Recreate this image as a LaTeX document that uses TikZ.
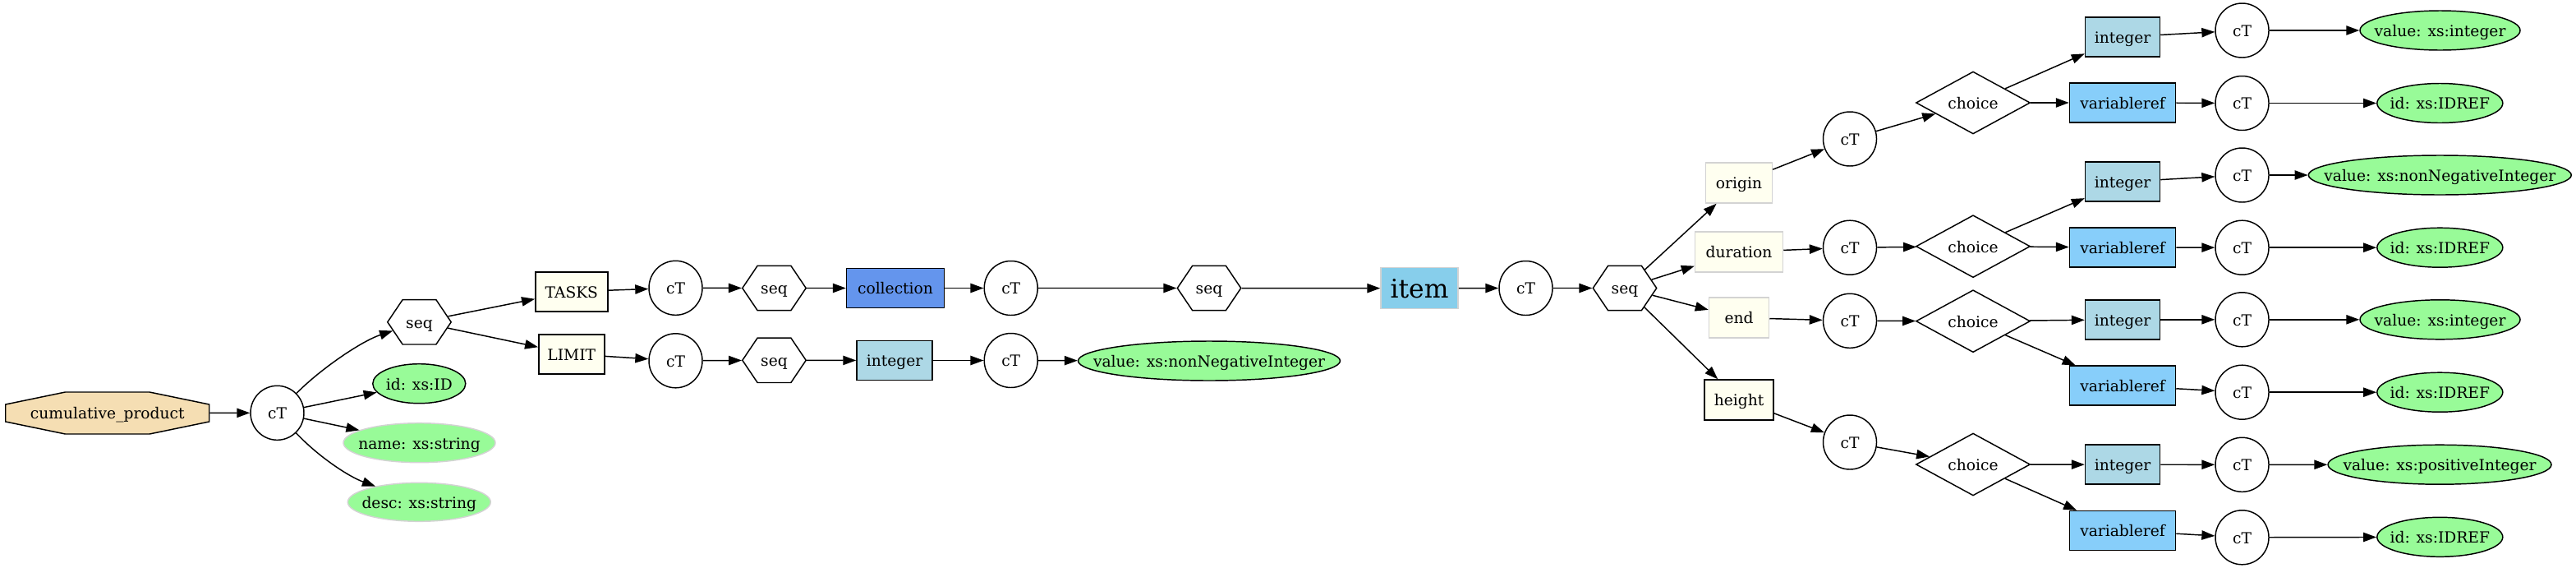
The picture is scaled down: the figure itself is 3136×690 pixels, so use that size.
\documentclass[tikz,border=0pt]{standalone}
\usepackage{fontspec}
\setmainfont{DejaVu Serif}
\usetikzlibrary{shapes.geometric,shapes.symbols,arrows.meta,calc}
\definecolor{wheatc}{HTML}{F5DEB3}
\definecolor{ivoryc}{HTML}{FFFFF0}
\definecolor{palegreenc}{HTML}{98FB98}
\definecolor{lgrayc}{HTML}{D3D3D3}
\definecolor{cornflowerc}{HTML}{6495ED}
\definecolor{lbluec}{HTML}{ADD8E6}
\definecolor{lskyc}{HTML}{87CEFA}
\definecolor{skyc}{HTML}{87CEEB}
\newcommand{\zb}[1]{\makebox[0pt]{#1}}
\begin{document}
\begin{tikzpicture}[x=0.75pt,y=-0.75pt,
  every node/.style={font=\fontsize{14pt}{16pt}\selectfont, inner sep=0pt, text height=11pt, text depth=0pt, line width=1.1pt},
  wh/.style 2 args={minimum width=#1*0.75pt, minimum height=#2*0.75pt},
  ctn/.style={ellipse, draw, wh={65}{66}},
  seqn/.style={signal, signal to=west and east, signal pointer angle=112, draw, wh={77.4}{54.4}},
  chn/.style={diamond, draw, wh={139}{66}},
  boxn/.style={rectangle, draw},
  elemn/.style={boxn, fill=ivoryc},
  attrn/.style={ellipse, draw, fill=palegreenc},
  soft/.style={draw=lgrayc},
  intn/.style={boxn, fill=lbluec, wh={91}{48}},
  vrn/.style={boxn, fill=lskyc, wh={129}{48}},
  arr/.style={-{Triangle[length=12pt,width=8.5pt]}, line width=1.1pt},
]
\useasboundingbox (0,0) rectangle (3136,690);

% root octagon
\coordinate (cpc) at (130.75,502.5);
\draw[line width=1.1pt, fill=wheatc] ($(cpc)+(-124,-10.5)$) -- ($(cpc)+(-51.3,-25.5)$) -- ($(cpc)+(51.3,-25.5)$) -- ($(cpc)+(124,-10.5)$) -- ($(cpc)+(124,10.5)$) -- ($(cpc)+(51.3,25.5)$) -- ($(cpc)+(-51.3,25.5)$) -- ($(cpc)+(-124,10.5)$) -- cycle;
\node[wh={248}{51}] (cp) at (cpc) {cumulative\_product};

% left part
\node[ctn] (ct1) at (337.5,502.3) {cT};
\node[seqn] (seq1) at (510.5,391.8) {seq};
\node[attrn, wh={113}{48}] (aid) at (510.3,466.7) {\zb{id: xs:ID}};
\node[attrn, soft, wh={185}{48}] (aname) at (510.5,538.7) {\zb{name: xs:string}};
\node[attrn, soft, wh={174}{47}] (adesc) at (510.3,610.8) {\zb{desc: xs:string}};
\node[elemn, wh={88}{48}] (tasks) at (695.8,354.8) {TASKS};
\node[elemn, wh={80}{48}] (limit) at (695.8,430.8) {LIMIT};

% TASKS row
\node[ctn] (ctT) at (822.5,350.3) {cT};
\node[seqn] (seqT) at (942.5,350.5) {seq};
\node[boxn, fill=cornflowerc, wh={119}{48}] (coll) at (1090,350.5) {collection};
\node[ctn] (ctC) at (1230.7,350.5) {cT};
\node[seqn] (seqC) at (1472,350.5) {seq};
\node[boxn, fill=skyc, soft, wh={94}{50}, font=\fontsize{23.5pt}{26pt}\selectfont, text height=18pt] (item) at (1728,350.7) {item};
\node[ctn] (ctI) at (1857.5,350.5) {cT};
\node[seqn] (seqI) at (1978,350.5) {seq};

% LIMIT row
\node[ctn] (ctL) at (822.5,438.8) {cT};
\node[seqn] (seqL) at (942.5,438.3) {seq};
\node[intn, wh={92}{48}] (intL) at (1089,438.5) {integer};
\node[ctn] (ctIL) at (1230.7,438.5) {cT};
\node[attrn, wh={319}{48}] (valL) at (1472,439) {\zb{value: xs:nonNegativeInteger}};

% item children
\node[elemn, soft, wh={81}{49}] (orig) at (2117,222.5) {origin};
\node[elemn, soft, wh={107}{49}] (dur) at (2117,306.5) {duration};
\node[elemn, soft, wh={73}{49}] (endn) at (2117,386.5) {end};
\node[elemn, wh={84}{49}] (hgt) at (2117,486.5) {height};

\node[ctn] (cto) at (2252,169) {cT};
\node[ctn] (ctd) at (2252,301.2) {cT};
\node[ctn] (cte) at (2252,390.3) {cT};
\node[ctn] (cth) at (2252,538) {cT};

\node[chn] (cho) at (2402,125) {choice};
\node[chn] (chd) at (2402,299.7) {choice};
\node[chn] (che) at (2402,390.7) {choice};
\node[chn] (chh) at (2402,565) {choice};

\node[intn] (into) at (2584,45) {integer};
\node[vrn] (vro) at (2584,125) {variableref};
\node[intn] (intd) at (2584,221.2) {integer};
\node[vrn] (vrd) at (2584,301) {variableref};
\node[intn] (inte) at (2584,388.8) {integer};
\node[vrn] (vre) at (2584,469.2) {variableref};
\node[intn] (inth) at (2584,565.2) {integer};
\node[vrn] (vrh) at (2584,645.5) {variableref};

\node[ctn] (ctoi) at (2729.5,37) {cT};
\node[ctn] (ctov) at (2729.5,125.5) {cT};
\node[ctn] (ctdi) at (2729.5,213) {cT};
\node[ctn] (ctdv) at (2729.5,301.2) {cT};
\node[ctn] (ctei) at (2729.5,388.8) {cT};
\node[ctn] (ctev) at (2729.5,477.2) {cT};
\node[ctn] (cthi) at (2729.5,565.3) {cT};
\node[ctn] (cthv) at (2729.5,653.8) {cT};

\node[attrn, wh={195}{48}] (valo) at (2970.5,37) {\zb{value: xs:integer}};
\node[attrn, wh={153}{48}] (ido) at (2970.3,125.5) {\zb{id: xs:IDREF}};
\node[attrn, wh={320}{48}] (vald) at (2970.3,213) {\zb{value: xs:nonNegativeInteger}};
\node[attrn, wh={153}{48}] (idd) at (2970.3,301.2) {\zb{id: xs:IDREF}};
\node[attrn, wh={195}{48}] (vale) at (2970.5,388.8) {\zb{value: xs:integer}};
\node[attrn, wh={153}{48}] (ide) at (2970.3,477.2) {\zb{id: xs:IDREF}};
\node[attrn, wh={272}{48}] (valh) at (2970,565.2) {\zb{value: xs:positiveInteger}};
\node[attrn, wh={153}{48}] (idh) at (2970.3,653.3) {\zb{id: xs:IDREF}};

% edges
\draw[arr] (cp) -- (ct1);
\draw[arr] (ct1) .. controls (390,449) and (440,415) .. (seq1);
\draw[arr] (ct1) -- (aid);
\draw[arr] (ct1) -- (aname);
\draw[arr] (ct1) .. controls (388,556) and (425,580) .. (adesc);
\draw[arr] (seq1) -- (tasks);
\draw[arr] (seq1) -- (limit);

\draw[arr] (tasks) -- (ctT);
\draw[arr] (ctT) -- (seqT);
\draw[arr] (seqT) -- (coll);
\draw[arr] (coll) -- (ctC);
\draw[arr] (ctC) -- (seqC);
\draw[arr] (seqC) -- (item);
\draw[arr] (item) -- (ctI);
\draw[arr] (ctI) -- (seqI);

\draw[arr] (limit) -- (ctL);
\draw[arr] (ctL) -- (seqL);
\draw[arr] (seqL) -- (intL);
\draw[arr] (intL) -- (ctIL);
\draw[arr] (ctIL) -- (valL);

\draw[arr] (seqI) -- (orig);
\draw[arr] (seqI) -- (dur);
\draw[arr] (seqI) -- (endn);
\draw[arr] (seqI) -- (hgt);

\draw[arr] (orig) -- (cto);
\draw[arr] (dur) -- (ctd);
\draw[arr] (endn) -- (cte);
\draw[arr] (hgt) -- (cth);

\draw[arr] (cto) -- (cho);
\draw[arr] (ctd) -- (chd);
\draw[arr] (cte) -- (che);
\draw[arr] (cth) -- (chh);

\draw[arr] (cho) -- (into);
\draw[arr] (cho) -- (vro);
\draw[arr] (chd) -- (intd);
\draw[arr] (chd) -- (vrd);
\draw[arr] (che) -- (inte);
\draw[arr] (che) -- (vre);
\draw[arr] (chh) -- (inth);
\draw[arr] (chh) -- (vrh);

\draw[arr] (into) -- (ctoi);
\draw[arr] (vro) -- (ctov);
\draw[arr] (intd) -- (ctdi);
\draw[arr] (vrd) -- (ctdv);
\draw[arr] (inte) -- (ctei);
\draw[arr] (vre) -- (ctev);
\draw[arr] (inth) -- (cthi);
\draw[arr] (vrh) -- (cthv);

\draw[arr] (ctoi) -- (valo);
\draw[arr] (ctov) -- (ido);
\draw[arr] (ctdi) -- (vald);
\draw[arr] (ctdv) -- (idd);
\draw[arr] (ctei) -- (vale);
\draw[arr] (ctev) -- (ide);
\draw[arr] (cthi) -- (valh);
\draw[arr] (cthv) -- (idh);
\end{tikzpicture}
\end{document}
